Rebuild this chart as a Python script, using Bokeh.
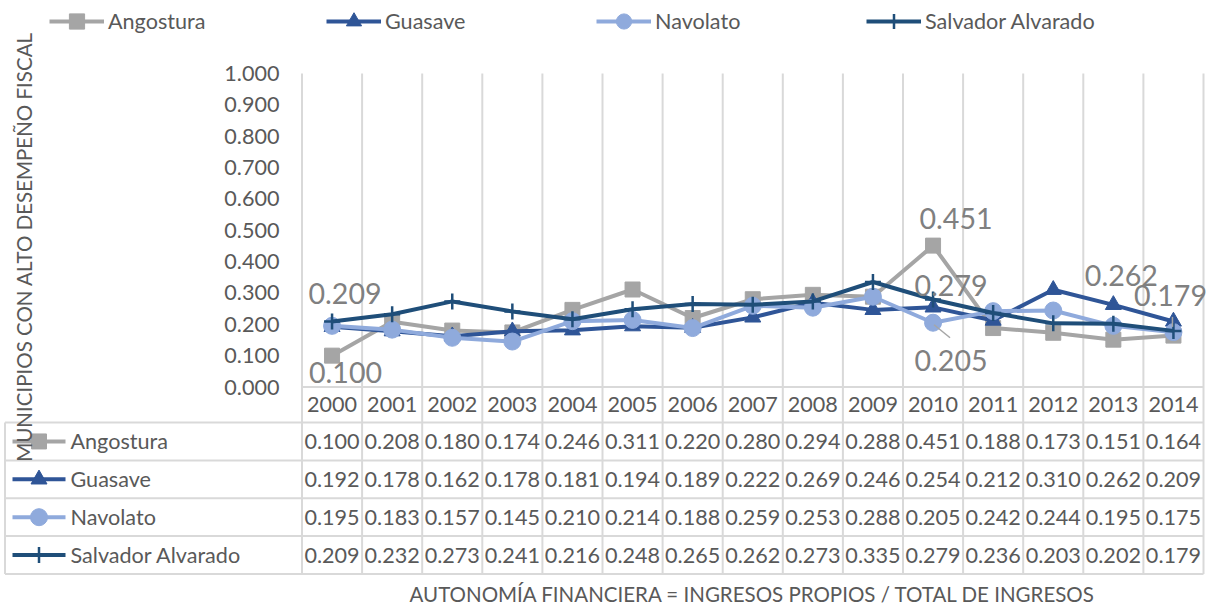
import math
from bokeh.plotting import figure
from bokeh.models import Range1d, Legend, LegendItem, ColumnDataSource
from bokeh.core.properties import value
from bokeh.embed import file_html
from bokeh.resources import INLINE

# ---------------- data ----------------
years = [2000, 2001, 2002, 2003, 2004, 2005, 2006, 2007, 2008, 2009, 2010, 2011, 2012, 2013, 2014]
angostura = [0.100, 0.208, 0.180, 0.174, 0.246, 0.311, 0.220, 0.280, 0.294, 0.288, 0.451, 0.188, 0.173, 0.151, 0.164]
guasave = [0.192, 0.178, 0.162, 0.178, 0.181, 0.194, 0.189, 0.222, 0.269, 0.246, 0.254, 0.212, 0.310, 0.262, 0.209]
navolato = [0.195, 0.183, 0.157, 0.145, 0.210, 0.214, 0.188, 0.259, 0.253, 0.288, 0.205, 0.242, 0.244, 0.195, 0.175]
salvador = [0.209, 0.232, 0.273, 0.241, 0.216, 0.248, 0.265, 0.262, 0.273, 0.335, 0.279, 0.236, 0.203, 0.202, 0.179]
series_names = ["Angostura", "Guasave", "Navolato", "Salvador Alvarado"]
y_ticks = [0.0, 0.1, 0.2, 0.3, 0.4, 0.5, 0.6, 0.7, 0.8, 0.9, 1.0]
y_title = "MUNICIPIOS CON ALTO DESEMPEÑO FISCAL"
x_title = "AUTONOMÍA FINANCIERA = INGRESOS PROPIOS / TOTAL DE INGRESOS"
# which points carry a data label
label_series = ["Angostura", "Salvador Alvarado", "Angostura", "Salvador Alvarado", "Navolato", "Guasave", "Salvador Alvarado"]
label_years = [2000, 2000, 2010, 2010, 2010, 2013, 2014]

series_values = {"Angostura": angostura, "Guasave": guasave, "Navolato": navolato, "Salvador Alvarado": salvador}

# ---------------- styles / layout ----------------
OFF = 0
W, H = 1212, 605
X0, CW = 331.55, 60.1      # pixel centre of first category, category width
Y0, YS = 386.5, 313.5      # pixel of value 0, pixels per unit


def px2x(px):
    return years[0] + (px - X0) / CW


def py2y(py):
    return (Y0 - py) / YS


FONT = value("Lato")
TXT = "#595959"
GRID = "#D9D9D9"
colors = {"Angostura": "#A5A5A5", "Guasave": "#2F5597", "Navolato": "#8FAADC", "Salvador Alvarado": "#1F4E79"}
markers = {"Angostura": "square", "Guasave": "triangle", "Navolato": "circle", "Salvador Alvarado": "cross"}
msizes = {"Angostura": 15, "Guasave": 16, "Navolato": 17, "Salvador Alvarado": 16}
mlw = {"Angostura": 1, "Guasave": 1, "Navolato": 1, "Salvador Alvarado": 2.5}
label_dx = [13.5, 13, 23, 18, 18, 8, -3]
label_dy = [16.5, -28, -27, -14, 38, -29, -35]

p = figure(width=W, height=H,
           x_range=Range1d(px2x(OFF), px2x(OFF + W)),
           y_range=Range1d(py2y(OFF + H), py2y(OFF)),
           output_backend="svg", toolbar_location=None, tools="",
           x_axis_location=None, y_axis_location=None, min_border=0)
p.outline_line_color = None
p.grid.visible = False
p.background_fill_color = "white"
p.border_fill_color = "white"

left = years[0] - 0.5
right = years[-1] + 0.5
row_lines_px = [422.0, 459.9, 497.8, 535.6, 573.5]
row_centers_px = [(row_lines_px[i] + row_lines_px[i + 1]) / 2 for i in range(4)]
bottom = py2y(row_lines_px[-1])
tab_left = px2x(4.5)

# vertical category lines (grid + table columns)
vx = [left + k for k in range(len(years) + 1)]
p.segment(x0=vx, y0=[y_ticks[-1]] * len(vx), x1=vx, y1=[bottom] * len(vx), line_color=GRID, line_width=2)
# category axis line / header top
p.segment(x0=[left], y0=[0.0], x1=[right], y1=[0.0], line_color=GRID, line_width=2)
# table rows
ry = [py2y(r) for r in row_lines_px]
p.segment(x0=[tab_left] * len(ry), y0=ry, x1=[right] * len(ry), y1=ry, line_color=GRID, line_width=2)
p.segment(x0=[tab_left], y0=[ry[0]], x1=[tab_left], y1=[bottom], line_color=GRID, line_width=2)

# series
renderers = {}
for name in series_names:
    vals = series_values[name]
    src = ColumnDataSource(dict(x=years, y=vals))
    lr = p.line("x", "y", source=src, line_color=colors[name], line_width=4, line_join="round")
    sr = p.scatter("x", "y", source=src, marker=markers[name], size=msizes[name],
                   fill_color=colors[name], line_color=colors[name], line_width=mlw[name])
    renderers[name] = (lr, sr)

# y tick labels
p.text(x=[left] * len(y_ticks), y=y_ticks, text=[f"{t:.3f}" for t in y_ticks], x_offset=-22.5,
       text_align="right", text_baseline="middle", text_font=FONT, text_font_size="21.6px", text_color=TXT)

# header row years
p.text(x=years, y=[py2y(404.3)] * len(years), text=[str(y) for y in years],
       text_align="center", text_baseline="middle", text_font=FONT, text_font_size="21.6px", text_color=TXT)

# table rows
for i, name in enumerate(series_names):
    rc = py2y(row_centers_px[i])
    vals = series_values[name]
    p.segment(x0=[px2x(12)], y0=[rc], x1=[px2x(65)], y1=[rc], line_color=colors[name], line_width=4)
    p.scatter(x=[px2x(38.5)], y=[rc], marker=markers[name], size=msizes[name],
              fill_color=colors[name], line_color=colors[name], line_width=mlw[name])
    p.text(x=[px2x(70)], y=[rc], text=[name], text_align="left", text_baseline="middle",
           text_font=FONT, text_font_size="21.6px", text_color=TXT)
    p.text(x=years, y=[rc] * len(years), text=[f"{v:.3f}" for v in vals], text_align="center",
           text_baseline="middle", text_font=FONT, text_font_size="21.6px", text_color=TXT)

# data labels
lx, ly, lt = [], [], []
for s, yr in zip(label_series, label_years):
    v = series_values[s][years.index(yr)]
    lx.append(yr)
    ly.append(v)
    lt.append(f"{v:.3f}")
p.text(x=lx, y=ly, text=lt, x_offset=label_dx, y_offset=label_dy, text_align="center",
       text_baseline="middle", text_font=FONT, text_font_size="28.6px", text_color="#808080")

# leader lines (Navolato 2010, Salvador 2014)
ld = [("Navolato", 2010, 1, 2, 17, 15), ("Salvador Alvarado", 2014, -1, -14, -1, -4)]
for s, yr, a0, b0, a1, b1 in ld:
    v = series_values[s][years.index(yr)]
    p.segment(x0=[yr + a0 / CW], y0=[v - b0 / YS], x1=[yr + a1 / CW], y1=[v - b1 / YS],
              line_color="#A6A6A6", line_width=1.5)

# axis titles
p.text(x=[px2x(23.5)], y=[py2y(246.5)], text=[y_title], angle=math.pi / 2, text_align="center",
       text_baseline="middle", text_font=FONT, text_font_size="20.5px", text_color=TXT)
p.text(x=[px2x(752.5)], y=[py2y(593)], text=[x_title], text_align="center",
       text_baseline="middle", text_font=FONT, text_font_size="20.5px", text_color=TXT)

# top legend
leg_x = [49, 326, 596, 866]
for name, lxp in zip(series_names, leg_x):
    lr, sr = renderers[name]
    leg = Legend(items=[LegendItem(label=name, renderers=[lr, sr])], location=(lxp, H - 21 - 19),
                 orientation="horizontal", glyph_width=55, glyph_height=38, label_standoff=4,
                 padding=0, margin=0, spacing=0, border_line_alpha=0, background_fill_alpha=0,
                 label_text_font="Lato", label_text_font_size="21.6px", label_text_color=TXT)
    p.add_layout(leg)

open("out.html", "w").write(file_html(p, INLINE))
